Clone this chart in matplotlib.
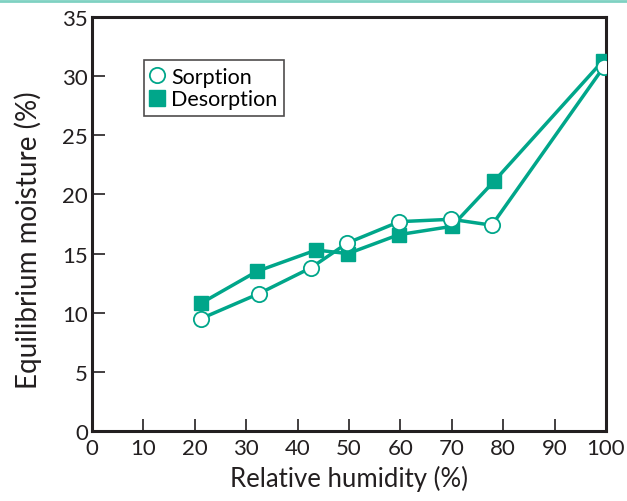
import matplotlib.pyplot as plt
from matplotlib.lines import Line2D

plt.rcParams['font.family'] = ['Lato', 'DejaVu Sans']

teal = '#00A68A'

# sorption (open circles)
rh_sorp = [21.2, 32.4, 42.6, 49.7, 59.8, 69.9, 77.8, 99.6]
mc_sorp = [9.5, 11.6, 13.8, 15.9, 17.7, 17.9, 17.4, 30.8]

# desorption (filled squares)
rh_desorp = [21.2, 32.1, 43.6, 49.8, 59.7, 70.0, 78.2, 99.4]
mc_desorp = [10.8, 13.5, 15.3, 15.0, 16.6, 17.3, 21.1, 31.3]

x_ticks = list(range(0, 101, 10))
y_ticks = list(range(0, 36, 5))

fig = plt.figure(figsize=(6.27, 5.02), dpi=100)
ax = fig.add_axes([0.1467, 0.1394, 0.8198, 0.8247])

ax.plot(rh_desorp, mc_desorp, color=teal, lw=2.5, marker='s', ms=10,
        mfc=teal, mec=teal, zorder=3)
ax.plot(rh_sorp, mc_sorp, color=teal, lw=2.5, marker='o', ms=11,
        mfc='white', mec=teal, mew=1.3, zorder=4)

ax.set_xlim(0, 100)
ax.set_ylim(0, 35)
ax.set_xticks(x_ticks)
ax.set_yticks(y_ticks)
ax.tick_params(direction='in', length=9, width=1.2, labelsize=16,
               colors='#231f20', pad=3)
ax.tick_params(axis='x', pad=5)
for s in ax.spines.values():
    s.set_linewidth(2.2)
    s.set_color('#231f20')

ax.set_xlabel('Relative humidity (%)', fontsize=18.5, color='#231f20', labelpad=5)
ax.set_ylabel('Equilibrium moisture (%)', fontsize=20, color='#231f20')
ax.yaxis.set_label_coords(-0.097, 0.464)

handles = [
    Line2D([], [], ls='none', marker='o', ms=11, mfc='white', mec=teal, mew=1.3),
    Line2D([], [], ls='none', marker='s', ms=11, mfc=teal, mec=teal),
]
leg = ax.legend(handles, ['Sorption', 'Desorption'], loc='upper left',
                bbox_to_anchor=(0.101, 0.895), fontsize=15.5, frameon=True,
                fancybox=False, edgecolor='#231f20', handlelength=0.6,
                handletextpad=0.35, borderpad=0.3, labelspacing=0.1,
                borderaxespad=0)
leg.get_frame().set_linewidth(1.2)

# thin teal rule along the top of the figure
fig.add_artist(Line2D([0, 1], [0.997, 0.997], color='#7fd1c2', lw=2,
                      transform=fig.transFigure))

fig.savefig('out.png', dpi=100)
